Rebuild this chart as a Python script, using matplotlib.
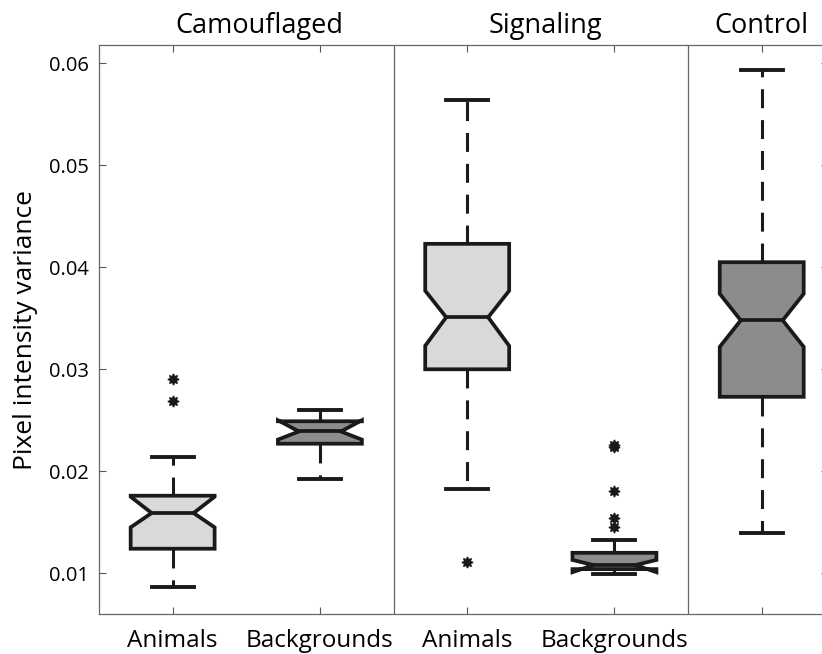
import matplotlib
matplotlib.use('Agg')
import matplotlib.pyplot as plt

plt.rcParams['font.family'] = ['Open Sans', 'DejaVu Sans']

# box statistics (order: camo animals, camo backgrounds,
# signaling animals, signaling backgrounds, control)
labels = ['Animals', 'Backgrounds', 'Animals', 'Backgrounds', '']
whislo = [0.0086, 0.0192, 0.0183, 0.0099, 0.0139]
q1 = [0.0124, 0.0227, 0.0300, 0.0104, 0.0273]
cilo = [0.0145, 0.0231, 0.0323, 0.0101, 0.0322]
med = [0.0159, 0.0239, 0.0351, 0.0108, 0.0348]
cihi = [0.0175, 0.0250, 0.0377, 0.0113, 0.0374]
q3 = [0.0176, 0.0249, 0.0423, 0.0120, 0.0405]
whishi = [0.0214, 0.0260, 0.0564, 0.0133, 0.0593]
fliers = [[0.0290, 0.0269], [], [0.0111],
          [0.0224, 0.0226, 0.0181, 0.0154, 0.0145], []]
fills = ['#d9d9d9', '#8c8c8c', '#d9d9d9', '#8c8c8c', '#8c8c8c']

groups = ['Camouflaged', 'Signaling', 'Control']
group_pos = [1.59, 3.53, 5.0]
separators = [2.5, 4.5]

stats = []
for i in range(len(med)):
    stats.append(dict(med=med[i], q1=q1[i], q3=q3[i], whislo=whislo[i],
                      whishi=whishi[i], cilo=cilo[i], cihi=cihi[i],
                      fliers=fliers[i]))

fig = plt.figure(figsize=(8.22, 6.54), dpi=100)
ax = fig.add_axes([99/822, 1-614/654, (828-99)/822, (614-45)/654])

dark = '#1a1a1a'
bp = ax.bxp(stats, positions=range(1, 6), widths=0.57, shownotches=True,
            patch_artist=True,
            boxprops=dict(linewidth=2.7, edgecolor=dark),
            medianprops=dict(linewidth=2.7, color=dark),
            whiskerprops=dict(linewidth=2.2, color=dark,
                              linestyle=(0, (6.2, 3.9))),
            capprops=dict(linewidth=2.8, color=dark),
            flierprops=dict(marker=(8, 1, 0), markersize=8, markerfacecolor=dark,
                            markeredgecolor=dark, markeredgewidth=1.0))
for patch, c in zip(bp['boxes'], fills):
    patch.set_facecolor(c)

for s in separators:
    ax.axvline(s, color='#666666', linewidth=0.9)

ax.set_xlim(0.5, 5.45)
ax.set_ylim(0.006, 0.0618)
ax.set_yticks([0.01, 0.02, 0.03, 0.04, 0.05, 0.06])
ax.set_yticklabels(['0.01', '0.02', '0.03', '0.04', '0.05', '0.06'])
ax.set_xticks(range(1, 6))
ax.set_xticklabels(labels, fontsize=17.5)
ax.tick_params(axis='y', labelsize=14.5, pad=7)
ax.tick_params(axis='x', pad=11)
ax.tick_params(direction='in', length=5, width=0.8, color='#555555',
               top=True, right=True)
for sp in ax.spines.values():
    sp.set_color('#666666')
    sp.set_linewidth(0.9)

for g, p in zip(groups, group_pos):
    ax.text(p, 1.021, g, transform=ax.get_xaxis_transform(),
            ha='center', va='baseline', fontsize=19.5)

ax.set_ylabel('Pixel intensity variance', fontsize=19, labelpad=8)

fig.savefig('out.png', dpi=100)
